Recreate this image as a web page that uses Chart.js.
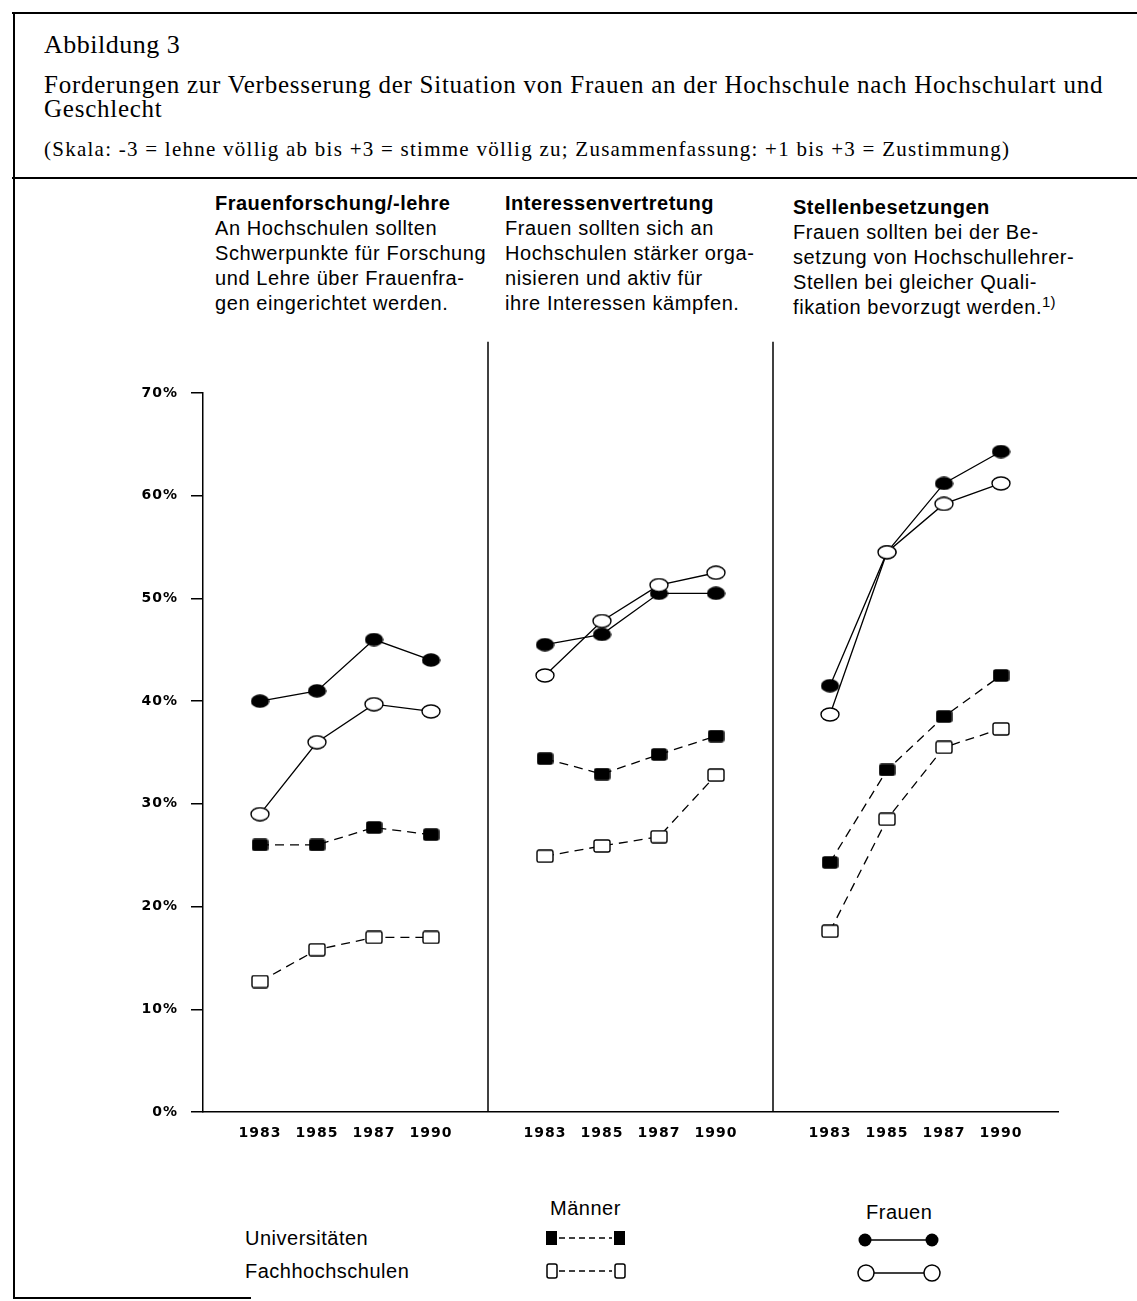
<!DOCTYPE html>
<html lang="de">
<head>
<meta charset="utf-8">
<title>Abbildung 3</title>
<script src="https://cdn.jsdelivr.net/npm/chart.js@4.4.1/dist/chart.umd.min.js"></script>
<style>
  html, body { margin: 0; padding: 0; background: #fff; }
  body { position: relative; width: 1137px; height: 1301px; overflow: hidden; color: #000; }
  .rule { position: absolute; background: #000; }
  .serif { position: absolute; font-family: 'Liberation Serif', 'Times New Roman', serif; white-space: nowrap; }
  .panel { position: absolute; font-family: 'Liberation Sans', Arial, sans-serif; font-size: 20px; line-height: 25px; letter-spacing: 0.6px; white-space: nowrap; }
  .panel b { font-weight: bold; letter-spacing: 0.5px; }
  .panel sup { font-size: 15px; line-height: 0; vertical-align: 7px; letter-spacing: 0; }
  .leg { position: absolute; font-family: 'Liberation Sans', Arial, sans-serif; font-size: 20px; line-height: 22px; letter-spacing: 0.5px; white-space: nowrap; }
  #chartBox { position: absolute; left: 100px; top: 330px; width: 1000px; height: 830px; }
</style>
</head>
<body>

<div class="rule" style="left:12px; top:12px; width:1125px; height:2px;"></div>
<div class="rule" style="left:13px; top:12px; width:2px; height:1287px;"></div>
<div class="rule" style="left:12px; top:177px; width:1125px; height:2px;"></div>
<div class="rule" style="left:13px; top:1297px; width:238px; height:2px;"></div>

<div class="serif" style="left:44px; top:30px; font-size:26px; letter-spacing:0.5px;">Abbildung 3</div>
<div class="serif" style="left:44px; top:71px; font-size:25px; letter-spacing:0.75px;">Forderungen zur Verbesserung der Situation von Frauen an der Hochschule nach Hochschulart und</div>
<div class="serif" style="left:44px; top:95px; font-size:25px; letter-spacing:0.75px;">Geschlecht</div>
<div class="serif" style="left:44px; top:137px; font-size:21px; letter-spacing:1.25px;">(Skala: -3 = lehne völlig ab bis +3 = stimme völlig zu; Zusammenfassung: +1 bis +3 = Zustimmung)</div>

<div class="panel" style="left:215px; top:191px;"><b>Frauenforschung/-lehre</b><br>An Hochschulen sollten<br>Schwerpunkte für Forschung<br>und Lehre über Frauenfra-<br>gen eingerichtet werden.</div>
<div class="panel" style="left:505px; top:191px;"><b>Interessenvertretung</b><br>Frauen sollten sich an<br>Hochschulen stärker orga-<br>nisieren und aktiv für<br>ihre Interessen kämpfen.</div>
<div class="panel" style="left:793px; top:195px;"><b>Stellenbesetzungen</b><br>Frauen sollten bei der Be-<br>setzung von Hochschullehrer-<br>Stellen bei gleicher Quali-<br>fikation bevorzugt werden.<sup>1)</sup></div>

<div id="chartBox"><canvas id="chart"></canvas></div>

<div class="leg" style="left:550px; top:1197px;">Männer</div>
<div class="leg" style="left:866px; top:1201px;">Frauen</div>
<div class="leg" style="left:245px; top:1227px;">Universitäten</div>
<div class="leg" style="left:245px; top:1260px;">Fachhochschulen</div>

<svg style="position:absolute; left:0; top:0;" width="1137" height="1301">
  <rect x="546" y="1231" width="11" height="14" fill="#000"/>
  <line x1="559" y1="1238" x2="612" y2="1238" stroke="#000" stroke-width="1.5" stroke-dasharray="6,4"/>
  <rect x="614" y="1231" width="11" height="14" fill="#000"/>
  <rect x="547" y="1264" width="10" height="14" rx="2" fill="#fff" stroke="#000" stroke-width="1.5"/>
  <line x1="559" y1="1271" x2="612" y2="1271" stroke="#000" stroke-width="1.5" stroke-dasharray="6,4"/>
  <rect x="615" y="1264" width="10" height="14" rx="2" fill="#fff" stroke="#000" stroke-width="1.5"/>
  <line x1="866" y1="1240" x2="930" y2="1240" stroke="#000" stroke-width="1.5"/>
  <circle cx="865" cy="1240" r="6.5" fill="#000"/>
  <circle cx="932" cy="1240" r="6.5" fill="#000"/>
  <line x1="874" y1="1273" x2="924" y2="1273" stroke="#000" stroke-width="1.5"/>
  <circle cx="866" cy="1273" r="8" fill="#fff" stroke="#000" stroke-width="1.5"/>
  <circle cx="932" cy="1273" r="8" fill="#fff" stroke="#000" stroke-width="1.5"/>
</svg>

<script>
// Survey years shown under each of the three panels
const YEARS = ['1983', '1985', '1987', '1990'];

// Share of agreement in %, one inner array per panel:
// Frauenforschung/-lehre, Interessenvertretung, Stellenbesetzungen
const FRAUEN_UNI = [[40, 41, 46, 44], [45.5, 46.5, 50.5, 50.5], [41.5, 54.5, 61.2, 64.3]];
const FRAUEN_FH = [[29, 36, 39.7, 39], [42.5, 47.8, 51.3, 52.5], [38.7, 54.5, 59.2, 61.2]];
const MAENNER_UNI = [[26, 26, 27.7, 27], [34.4, 32.9, 34.8, 36.6], [24.3, 33.3, 38.5, 42.5]];
const MAENNER_FH = [[12.7, 15.8, 17, 17], [24.9, 25.9, 26.8, 32.8], [17.6, 28.5, 35.5, 37.3]];

const Y_TICKS = [0, 10, 20, 30, 40, 50, 60, 70];

const INK = '#000';
const TICK_FONT = { family: 'DejaVu Sans', size: 14, weight: 'bold' };
const DIVIDER_TOP = 75; // dividers reach a bit above the 70% mark

// one empty slot before, between and after the panels
const labels = [''];
for (let p = 0; p < 3; p++) {
  labels.push(...YEARS, '');
}

function spread(panels) {
  const out = [null];
  panels.forEach(vals => out.push(...vals, null));
  return out;
}

function marker(w, h, shape, filled) {
  const c = document.createElement('canvas');
  c.width = w;
  c.height = h;
  const ctx = c.getContext('2d');
  ctx.lineWidth = 1.4;
  ctx.fillStyle = filled ? INK : '#fff';
  ctx.strokeStyle = INK;
  ctx.beginPath();
  if (shape === 'ellipse') {
    ctx.ellipse(w / 2, h / 2, w / 2 - 1, h / 2 - 1, 0, 0, Math.PI * 2);
  } else {
    ctx.roundRect(1, 1, w - 2, h - 2, 2);
  }
  ctx.fill();
  ctx.stroke();
  return c;
}

const panelDividers = {
  id: 'panelDividers',
  beforeDraw(chart) {
    chart.ctx.letterSpacing = '1px';
  },
  beforeDatasetsDraw(chart) {
    const { ctx, scales: { x, y }, chartArea } = chart;
    ctx.save();
    ctx.strokeStyle = INK;
    ctx.lineWidth = 1.5;
    labels.forEach((lab, i) => {
      if (lab !== '' || i === 0 || i === labels.length - 1) return;
      const px = x.getPixelForValue(i);
      ctx.beginPath();
      ctx.moveTo(px, y.getPixelForValue(DIVIDER_TOP));
      ctx.lineTo(px, chartArea.bottom);
      ctx.stroke();
    });
    ctx.restore();
  }
};

function series(values, shape, filled, dashed, w, h) {
  return {
    data: spread(values),
    borderColor: INK,
    borderWidth: 1.3,
    borderDash: dashed ? [9, 6] : [],
    pointStyle: marker(w, h, shape, filled),
    pointRadius: 8,
    pointHoverRadius: 8,
    spanGaps: false,
    tension: 0,
    fill: false
  };
}

new Chart(document.getElementById('chart'), {
  type: 'line',
  data: {
    labels: labels,
    datasets: [
      series(FRAUEN_FH, 'ellipse', false, false, 20, 15),
      series(FRAUEN_UNI, 'ellipse', true, false, 19, 14),
      series(MAENNER_FH, 'rect', false, true, 18, 14),
      series(MAENNER_UNI, 'rect', true, true, 17, 13)
    ]
  },
  options: {
    responsive: true,
    maintainAspectRatio: false,
    animation: false,
    events: [],
    layout: { padding: { top: 63, right: 42, left: 0, bottom: 0 } },
    plugins: {
      legend: { display: false },
      tooltip: { enabled: false }
    },
    scales: {
      x: {
        type: 'category',
        grid: { display: false, drawTicks: false },
        border: { color: INK, width: 1.5 },
        ticks: { autoSkip: false, maxRotation: 0, color: INK, font: TICK_FONT, padding: 13 },
        afterFit: s => { s.height = 48; }
      },
      y: {
        min: 0,
        max: 70,
        afterBuildTicks: s => { s.ticks = Y_TICKS.map(v => ({ value: v })); },
        grid: { drawOnChartArea: false, tickLength: 12, color: INK, lineWidth: 1.5 },
        border: { color: INK, width: 1.5 },
        ticks: { color: INK, font: TICK_FONT, padding: 13, callback: v => v + '%' },
        afterFit: s => { s.width = 103; }
      }
    }
  },
  plugins: [panelDividers]
});
</script>
</body>
</html>
